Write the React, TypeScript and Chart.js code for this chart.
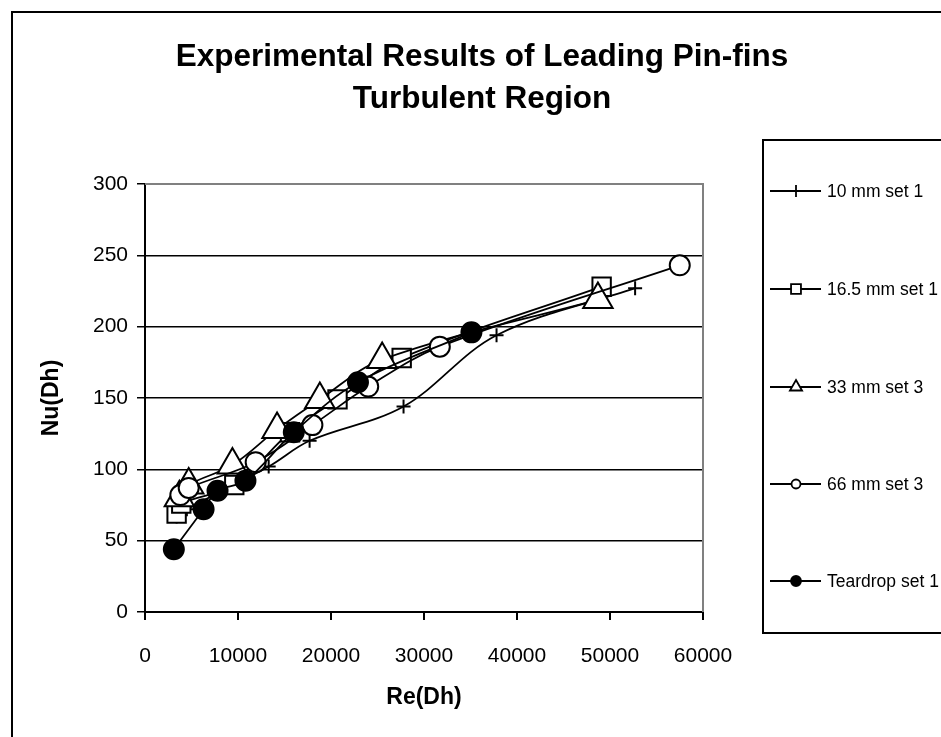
import React, { useEffect, useRef } from 'react';
import { Chart, registerables } from 'chart.js';
import { drawPoint } from 'chart.js/helpers';

Chart.register(...registerables);

const TITLE_LINES = ['Experimental Results of Leading Pin-fins', 'Turbulent Region'];
const X_TITLE = 'Re(Dh)';
const Y_TITLE = 'Nu(Dh)';
const SERIES_NAMES = ['10 mm set 1', '16.5 mm set 1', '33 mm set 3', '66 mm set 3', 'Teardrop set 1'];

const X_TICKS = [0, 10000, 20000, 30000, 40000, 50000, 60000];
const Y_TICKS = [0, 50, 100, 150, 200, 250, 300];

const re10 = [3400, 4500, 13300, 17700, 27800, 37800, 52700];
const nu10 = [67, 72, 102, 120, 144, 194, 227];
const re165 = [3400, 3900, 9600, 15600, 20700, 27600, 49100];
const nu165 = [69, 76, 89, 126, 149, 178, 228];
const re33 = [3700, 4700, 9400, 14200, 18800, 25500, 48700];
const nu33 = [80, 89, 103, 128, 149, 177, 219];
const re66 = [3800, 4700, 11900, 18000, 24000, 31700, 57500];
const nu66 = [82, 87, 105, 131, 158, 186, 243];
const reTD = [3100, 6300, 7800, 10800, 16000, 22900, 35100];
const nuTD = [44, 72, 85, 92, 126, 161, 196];

const FONT = "'Liberation Sans', Arial, sans-serif";

const pts = (xs: number[], ys: number[]) => xs.map((x, i) => ({ x, y: ys[i] }));

const STYLES = [
  { pointStyle: 'cross', radius: 7, bg: '#000', legendRadius: 6 },
  { pointStyle: 'rect', radius: 13, bg: '#fff', legendRadius: 7 },
  { pointStyle: 'triangle', radius: 17, bg: '#fff', legendRadius: 7 },
  { pointStyle: 'circle', radius: 10, bg: '#fff', legendRadius: 4.5 },
  { pointStyle: 'circle', radius: 10, bg: '#000', legendRadius: 5 },
];

const decorPlugin = {
  id: 'decor',
  beforeDraw(chart: any) {
    const ctx = chart.ctx;
    ctx.save();
    ctx.fillStyle = '#fff';
    ctx.fillRect(0, 0, chart.width, chart.height);
    ctx.restore();
  },
  afterDraw(chart: any) {
    const ctx = chart.ctx;
    const area = chart.chartArea;
    ctx.save();
    // outer frame
    ctx.strokeStyle = '#000';
    ctx.lineWidth = 2;
    ctx.strokeRect(12, 12, 2000, 2000);
    // plot border top/right
    ctx.strokeStyle = '#808080';
    ctx.lineWidth = 2;
    ctx.beginPath();
    ctx.moveTo(area.left, area.top);
    ctx.lineTo(area.right, area.top);
    ctx.lineTo(area.right, area.bottom);
    ctx.stroke();
    // title
    ctx.fillStyle = '#000';
    ctx.font = `bold 31.5px ${FONT}`;
    ctx.textAlign = 'center';
    ctx.textBaseline = 'middle';
    ctx.fillText(TITLE_LINES[0], 482, 57);
    ctx.fillText(TITLE_LINES[1], 482, 99);
    // legend
    ctx.strokeStyle = '#000';
    ctx.lineWidth = 2;
    ctx.strokeRect(763, 140, 400, 493);
    const ys = [191, 289, 387, 484, 581];
    ctx.font = `17.5px ${FONT}`;
    ctx.textAlign = 'left';
    chart.data.datasets.forEach((ds: any, i: number) => {
      const y = ys[i];
      ctx.strokeStyle = '#000';
      ctx.lineWidth = 1.8;
      ctx.beginPath();
      ctx.moveTo(770, y);
      ctx.lineTo(821, y);
      ctx.stroke();
      const st = STYLES[i];
      ctx.fillStyle = st.bg;
      ctx.strokeStyle = '#000';
      ctx.lineWidth = 1.8;
      drawPoint(ctx, { pointStyle: st.pointStyle, radius: st.legendRadius, borderWidth: 1.8, rotation: 0 } as any, 796, y);
      ctx.fillStyle = '#000';
      ctx.fillText(ds.label, 827, y + 1);
    });
    ctx.restore();
  },
};

export default function App() {
  const ref = useRef<HTMLCanvasElement | null>(null);
  useEffect(() => {
    if (!ref.current) return;
    Chart.defaults.font.family = FONT;
    Chart.defaults.color = '#000';
    const seriesX = [re10, re165, re33, re66, reTD];
    const seriesY = [nu10, nu165, nu33, nu66, nuTD];
    const datasets = SERIES_NAMES.map((name, i) => ({
      label: name,
      data: pts(seriesX[i], seriesY[i]),
      showLine: true,
      tension: 0.35,
      borderColor: '#000',
      borderWidth: 1.8,
      pointStyle: STYLES[i].pointStyle,
      pointRadius: STYLES[i].radius,
      pointHoverRadius: STYLES[i].radius,
      pointBackgroundColor: STYLES[i].bg,
      pointBorderColor: '#000',
      pointBorderWidth: 2,
      order: 5 - i,
    }));
    const chart = new Chart(ref.current, {
      type: 'scatter',
      data: { datasets },
      plugins: [decorPlugin],
      options: {
        responsive: false,
        animation: false,
        layout: { padding: { left: 0, top: 184, right: 238, bottom: 0 } },
        plugins: { legend: { display: false }, tooltip: { enabled: false }, title: { display: false } },
        scales: {
          x: {
            type: 'linear',
            min: 0,
            max: 60000,
            afterBuildTicks: (s: any) => { s.ticks = X_TICKS.map((v) => ({ value: v })); },
            afterFit: (s: any) => { s.height = 125; },
            ticks: { font: { size: 21 }, padding: 24, color: '#000', maxRotation: 0, callback: (v: any) => String(v) },
            grid: { drawOnChartArea: false, drawTicks: true, tickLength: 8, color: '#000', lineWidth: 2 },
            border: { display: true, color: '#000', width: 2 },
            title: { display: true, text: X_TITLE, font: { size: 23, weight: 'bold' }, padding: { top: 0, bottom: 26 }, color: '#000' },
          },
          y: {
            type: 'linear',
            min: 0,
            max: 300,
            afterBuildTicks: (s: any) => { s.ticks = Y_TICKS.map((v) => ({ value: v })); },
            afterFit: (s: any) => { s.width = 145; },
            ticks: { font: { size: 21 }, padding: 9, color: '#000', callback: (v: any) => String(v) },
            grid: { drawTicks: true, tickLength: 8, color: '#000', lineWidth: 1.5 },
            border: { display: true, color: '#000', width: 2 },
            title: { display: true, text: Y_TITLE, font: { size: 23, weight: 'bold' }, padding: { top: 38, bottom: 0 }, color: '#000' },
          },
        },
      },
    });
    return () => chart.destroy();
  }, []);
  return (
    <div style={{ position: 'fixed', left: 0, top: 0, width: 941, height: 737, overflow: 'hidden', background: '#fff' }}>
      <canvas ref={ref} width={941} height={737} style={{ display: 'block' }} />
    </div>
  );
}
